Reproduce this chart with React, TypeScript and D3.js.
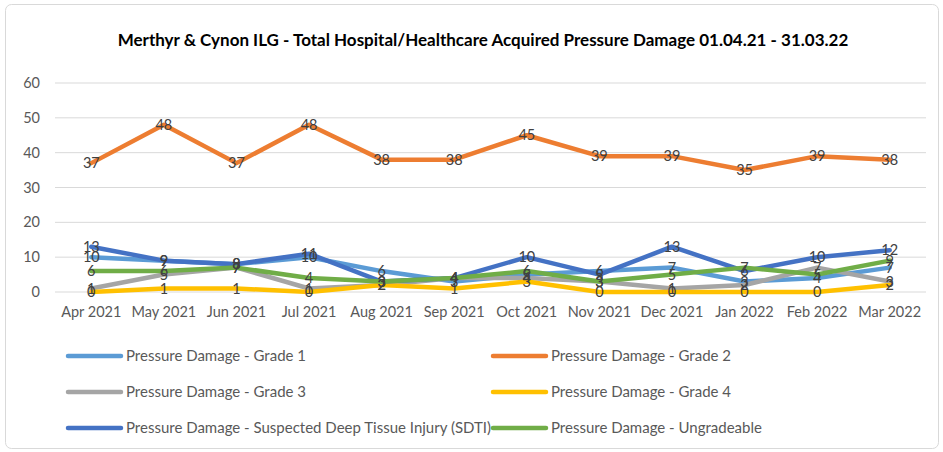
import React, { useEffect, useRef } from "react";
import * as d3 from "d3";

const months = ["Apr 2021", "May 2021", "Jun 2021", "Jul 2021", "Aug 2021", "Sep 2021", "Oct 2021", "Nov 2021", "Dec 2021", "Jan 2022", "Feb 2022", "Mar 2022"];
const grade1 = [10, 9, 8, 10, 6, 3, 5, 6, 7, 3, 4, 7];
const grade2 = [37, 48, 37, 48, 38, 38, 45, 39, 39, 35, 39, 38];
const grade3 = [1, 5, 7, 1, 2, 4, 4, 3, 1, 2, 7, 3];
const grade4 = [0, 1, 1, 0, 2, 1, 3, 0, 0, 0, 0, 2];
const sdti = [13, 9, 8, 11, 3, 4, 10, 5, 13, 6, 10, 12];
const ungradeable = [6, 6, 7, 4, 3, 4, 6, 3, 5, 7, 5, 9];
const yTicks = [0, 10, 20, 30, 40, 50, 60];

const series = [
	{ name: "Pressure Damage - Grade 1", values: grade1, color: "#5B9BD5" },
	{ name: "Pressure Damage - Grade 2", values: grade2, color: "#ED7D31" },
	{ name: "Pressure Damage - Grade 3", values: grade3, color: "#A5A5A5" },
	{ name: "Pressure Damage - Grade 4", values: grade4, color: "#FFC000" },
	{ name: "Pressure Damage - Suspected Deep Tissue Injury (SDTI)", values: sdti, color: "#4472C4" },
	{ name: "Pressure Damage - Ungradeable", values: ungradeable, color: "#70AD47" },
];

const FONT = "Lato, 'Open Sans', sans-serif";

export default function App() {
	const ref = useRef<SVGSVGElement>(null);

	useEffect(() => {
		const w = 943;
		const h = 452;
		const svg = d3.select(ref.current);
		svg.selectAll("*").remove();

		// frame
		svg
			.append("rect")
			.attr("x", 5.5)
			.attr("y", 4.5)
			.attr("width", w - 10)
			.attr("height", h - 8)
			.attr("rx", 6)
			.attr("fill", "#fff")
			.attr("stroke", "#d9d9d9");

		// title
		svg
			.append("text")
			.attr("x", 483)
			.attr("y", 46)
			.attr("text-anchor", "middle")
			.attr("font-family", FONT)
			.attr("font-weight", "bold")
			.attr("font-size", 17)
			.attr("fill", "#000")
			.text("Merthyr & Cynon ILG - Total Hospital/Healthcare Acquired Pressure Damage 01.04.21 - 31.03.22");

		const xScale = d3.scaleBand().domain(months).range([55, 926]);
		const yScale = d3.scaleLinear().domain([0, 60]).range([292, 83]);
		const cx = (m: string) => (xScale(m) as number) + xScale.bandwidth() / 2;

		// gridlines
		svg
			.append("g")
			.selectAll("line")
			.data(yTicks)
			.join("line")
			.attr("x1", 55)
			.attr("x2", 926)
			.attr("y1", d => yScale(d))
			.attr("y2", d => yScale(d))
			.attr("stroke", "#d9d9d9")
			.attr("stroke-width", 1);

		// y labels
		svg
			.append("g")
			.selectAll("text")
			.data(yTicks)
			.join("text")
			.attr("x", 40)
			.attr("y", d => yScale(d))
			.attr("dy", "0.35em")
			.attr("text-anchor", "end")
			.attr("font-family", FONT)
			.attr("font-size", 14.5)
			.attr("fill", "#595959")
			.text(d => d);

		// x labels
		svg
			.append("g")
			.selectAll("text")
			.data(months)
			.join("text")
			.attr("x", d => cx(d))
			.attr("y", 317)
			.attr("text-anchor", "middle")
			.attr("font-family", FONT)
			.attr("font-size", 14.5)
			.attr("fill", "#595959")
			.text(d => d);

		const line = d3
			.line<number>()
			.x((d, i) => cx(months[i]))
			.y(d => yScale(d));

		series.forEach(s => {
			svg
				.append("path")
				.datum(s.values)
				.attr("fill", "none")
				.attr("stroke", s.color)
				.attr("stroke-width", 4.5)
				.attr("stroke-linejoin", "round")
				.attr("stroke-linecap", "round")
				.attr("d", line);
		});

		// data labels
		series.forEach(s => {
			svg
				.append("g")
				.selectAll("text")
				.data(s.values)
				.join("text")
				.attr("x", (d, i) => cx(months[i]))
				.attr("y", d => yScale(d))
				.attr("dy", "0.35em")
				.attr("text-anchor", "middle")
				.attr("font-family", FONT)
				.attr("font-size", 14.5)
				.attr("fill", "#404040")
				.text(d => d);
		});

		// legend
		const legend = svg
			.append("g")
			.selectAll("g")
			.data(series)
			.join("g")
			.attr("transform", (d, i) => `translate(${i % 2 === 0 ? 66 : 491}, ${356 + Math.floor(i / 2) * 36})`);

		legend
			.append("line")
			.attr("x1", 2)
			.attr("x2", 55)
			.attr("stroke", d => d.color)
			.attr("stroke-width", 4.5)
			.attr("stroke-linecap", "round");

		legend
			.append("text")
			.attr("x", 60)
			.attr("dy", "0.35em")
			.attr("font-family", FONT)
			.attr("font-size", 15)
			.attr("fill", "#595959")
			.text(d => d.name);
	}, []);

	return <svg ref={ref} width={943} height={452} style={{ display: "block", position: "absolute", left: 0, top: 0 }} />;
}
